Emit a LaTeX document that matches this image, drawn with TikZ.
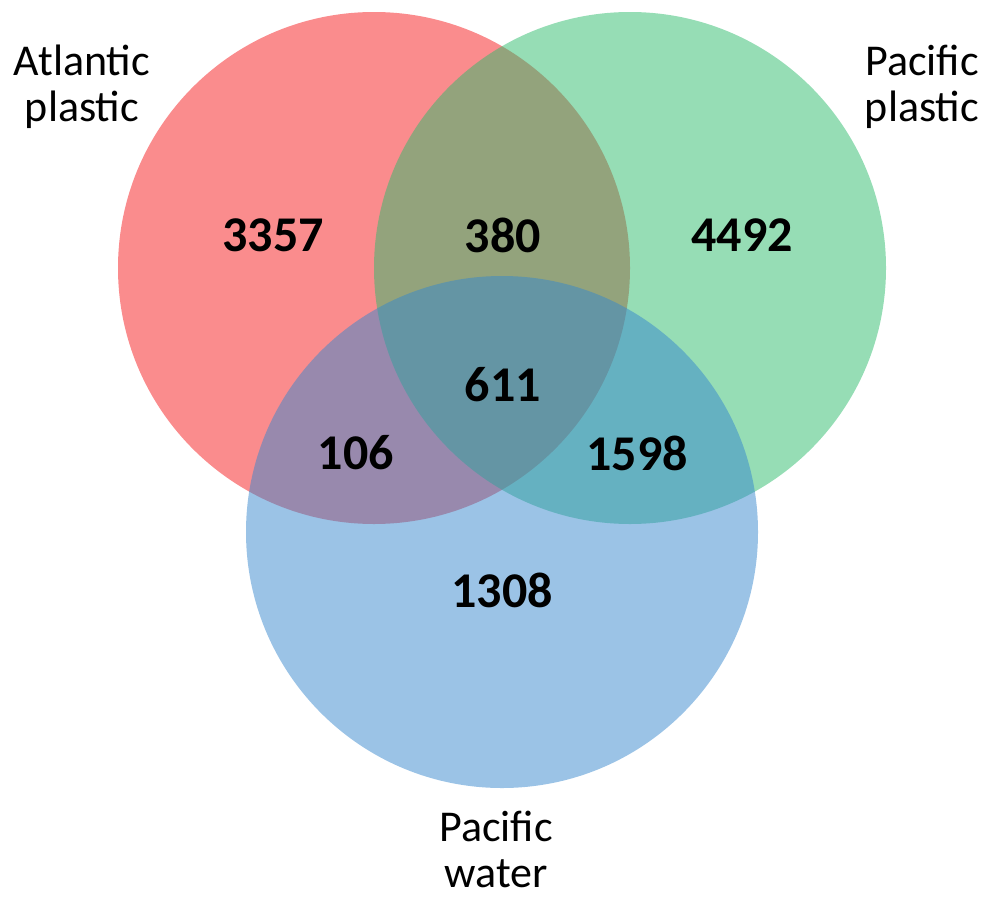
\documentclass[tikz,border=0pt]{standalone}
\usepackage{fontspec}
\setmainfont{Carlito}
\definecolor{cred}{RGB}{245,25,28}
\definecolor{cgreen}{RGB}{45,187,108}
\definecolor{cblue}{RGB}{55,135,205}
\begin{document}
\begin{tikzpicture}[x=1pt,y=-1pt,
  setc/.style={fill opacity=0.5, draw=none},
  num/.style={font=\fontsize{50}{56}\selectfont\bfseries, text=black},
  lab/.style={font=\fontsize{44}{46}\selectfont, align=center, text=black}]
\useasboundingbox (0,0) rectangle (993,897);
\fill[setc, fill=cred] (374,268) circle[radius=256];
\fill[setc, fill=cgreen] (630,268) circle[radius=256];
\fill[setc, fill=cblue] (502,532) circle[radius=256];
\node[num] (a) at (273,235) {3357};
\node[num] (ab) at (503,235) {380};
\node[num] (b) at (742,235) {4492};
\node[num] (abc) at (503,385) {611};
\node[num] (ac) at (356,453) {106};
\node[num] (bc) at (637,453) {1598};
\node[num] (c) at (502,590) {1308};
\node[lab] (la) at (82,87) {Atlantic\\plastic};
\node[lab] (lb) at (922,87) {Pacific\\plastic};
\node[lab] (lc) at (496,849) {Pacific\\water};
\end{tikzpicture}
\end{document}
